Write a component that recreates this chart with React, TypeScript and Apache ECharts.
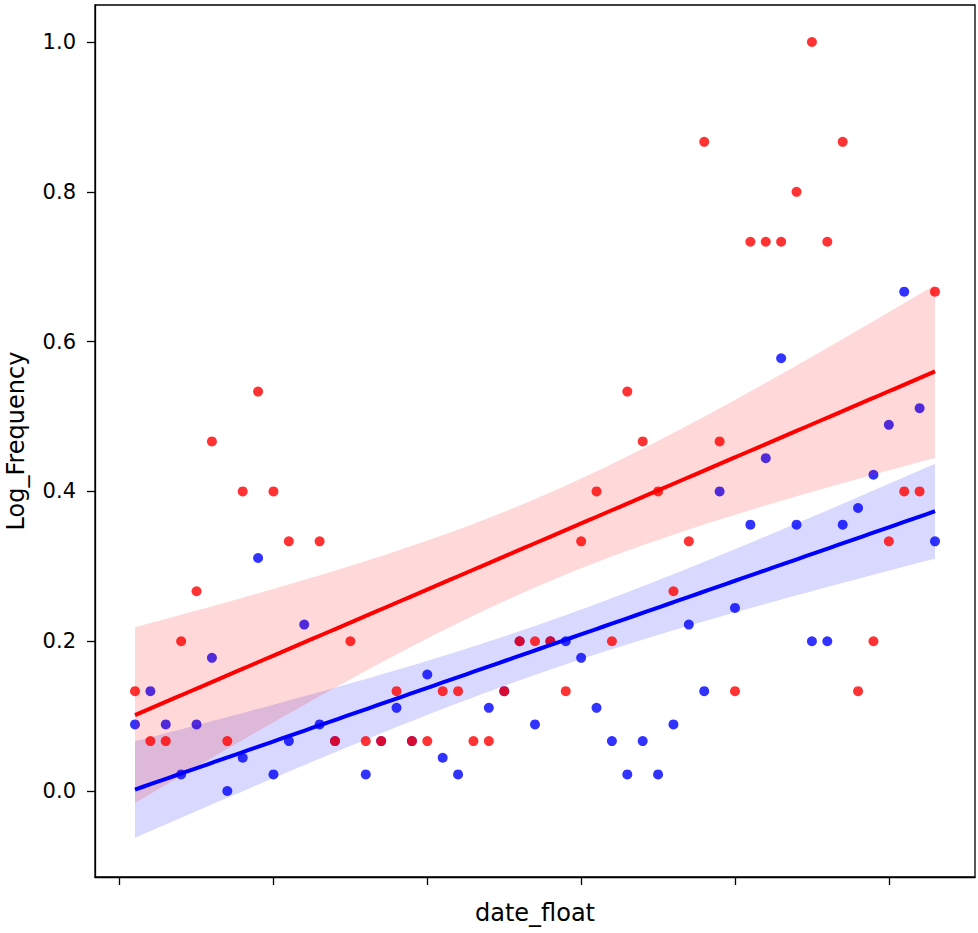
import React, { useEffect, useRef } from "react";
import * as echarts from "echarts";

const X_VALUES = [
  1, 2, 3, 4, 5, 6, 7, 8, 9, 10, 11, 12, 13, 14, 15, 16, 17, 18, 19, 20, 21, 22, 23, 24, 25, 26, 27,
  28, 29, 30, 31, 32, 33, 34, 35, 36, 37, 38, 39, 40, 41, 42, 43, 44, 45, 46, 47, 48, 49, 50, 51, 52, 53,
];

const RED_VALUES: (number | null)[] = [
  0.1333, 0.0667, 0.0667, 0.2, 0.2667, 0.4667, 0.0667, 0.4, 0.5333, 0.4, 0.3333, null, 0.3333, 0.0667,
  0.2, 0.0667, 0.0667, 0.1333, 0.0667, 0.0667, 0.1333, 0.1333, 0.0667, 0.0667, 0.1333, 0.2, 0.2, 0.2,
  0.1333, 0.3333, 0.4, 0.2, 0.5333, 0.4667, 0.4, 0.2667, 0.3333, 0.8667, 0.4667, 0.1333, 0.7333, 0.7333,
  0.7333, 0.8, 1.0, 0.7333, 0.8667, 0.1333, 0.2, 0.3333, 0.4, 0.4, 0.6667,
];

const BLUE_VALUES: (number | null)[] = [
  0.0889, 0.1333, 0.0889, 0.0222, 0.0889, 0.1778, 0.0, 0.0444, 0.3111, 0.0222, 0.0667, 0.2222, 0.0889,
  0.0667, null, 0.0222, 0.0667, 0.1111, 0.0667, 0.1556, 0.0444, 0.0222, null, 0.1111, 0.1333, 0.2, 0.0889,
  0.2, 0.2, 0.1778, 0.1111, 0.0667, 0.0222, 0.0667, 0.0222, 0.0889, 0.2222, 0.1333, 0.4, 0.2444, 0.3556,
  0.4444, 0.5778, 0.3556, 0.2, 0.2, 0.3556, 0.3778, 0.4222, 0.4889, 0.6667, 0.5111, 0.3333,
];

const X_TICKS = [0, 10, 20, 30, 40, 50];
const Y_TICKS = [0, 0.2, 0.4, 0.6, 0.8, 1.0];

const FONT = "DejaVu Sans";

type Fit = { pts: number[][]; line: number[][]; band: number[][] };

function regress(xs: number[], ys: (number | null)[]): Fit {
  const pts: number[][] = [];
  xs.forEach((x, i) => {
    const y = ys[i];
    if (y !== null && y !== undefined) pts.push([x, y]);
  });
  const n = pts.length;
  const xbar = pts.reduce((s, p) => s + p[0], 0) / n;
  const ybar = pts.reduce((s, p) => s + p[1], 0) / n;
  let sxx = 0;
  let sxy = 0;
  pts.forEach((p) => {
    sxx += (p[0] - xbar) * (p[0] - xbar);
    sxy += (p[0] - xbar) * (p[1] - ybar);
  });
  const b = sxy / sxx;
  const a = ybar - b * xbar;
  let sse = 0;
  pts.forEach((p) => {
    const r = p[1] - (a + b * p[0]);
    sse += r * r;
  });
  const s = Math.sqrt(sse / (n - 2));
  const t = 1.96;
  const xmin = Math.min(...pts.map((p) => p[0]));
  const xmax = Math.max(...pts.map((p) => p[0]));
  const line: number[][] = [];
  const band: number[][] = [];
  const N = 100;
  for (let k = 0; k < N; k++) {
    const g = xmin + ((xmax - xmin) * k) / (N - 1);
    const yh = a + b * g;
    const h = t * s * Math.sqrt(1 / n + ((g - xbar) * (g - xbar)) / sxx);
    line.push([g, yh]);
    band.push([g, yh - h, yh + h]);
  }
  return { pts, line, band };
}

function bandSeries(band: number[][], fill: string, z: number) {
  return {
    type: "custom",
    z,
    silent: true,
    data: band,
    encode: { x: 0, y: [1, 2] },
    renderItem: (params: any, api: any) => {
      if (params.dataIndex !== 0) return null;
      const upper = band.map((d) => api.coord([d[0], d[2]]));
      const lower = band
        .slice()
        .reverse()
        .map((d) => api.coord([d[0], d[1]]));
      return {
        type: "polygon",
        shape: { points: upper.concat(lower) },
        style: { fill, stroke: "none" },
      };
    },
  };
}

export default function App() {
  const ref = useRef<HTMLDivElement>(null);

  useEffect(() => {
    if (!ref.current) return;
    const chart = echarts.init(ref.current, null, { renderer: "svg" });
    const red = regress(X_VALUES, RED_VALUES);
    const blue = regress(X_VALUES, BLUE_VALUES);

    const option: any = {
      animation: false,
      backgroundColor: "#ffffff",
      grid: {
        left: 95,
        top: 5,
        right: 3,
        bottom: 56,
        containLabel: false,
        outerBoundsMode: "none",
        show: true,
        borderColor: "#000000",
        borderWidth: 1.3,
        backgroundColor: "#ffffff",
      },
      xAxis: {
        type: "value",
        min: -1.6,
        max: 55.6,
        name: "date_float",
        nameLocation: "middle",
        nameGap: 24,
        nameTextStyle: { fontFamily: FONT, fontSize: 24, color: "#000" },
        axisLine: { show: true, onZero: false, lineStyle: { color: "#000", width: 1.3 } },
        axisTick: {
          show: true,
          customValues: X_TICKS,
          length: 8,
          lineStyle: { color: "#000", width: 1.3 },
        },
        axisLabel: { show: false },
        splitLine: { show: false },
      },
      yAxis: {
        type: "value",
        min: -0.1148,
        max: 1.0494,
        name: "Log_Frequency",
        nameLocation: "middle",
        nameGap: 67,
        nameRotate: 90,
        nameTextStyle: { fontFamily: FONT, fontSize: 24, color: "#000" },
        axisLine: { show: true, onZero: false, lineStyle: { color: "#000", width: 1.3 } },
        axisTick: {
          show: true,
          customValues: Y_TICKS,
          length: 8,
          lineStyle: { color: "#000", width: 1.3 },
        },
        axisLabel: {
          show: true,
          customValues: Y_TICKS,
          formatter: (v: number) => v.toFixed(1),
          fontFamily: FONT,
          fontSize: 21,
          color: "#000",
          margin: 19,
        },
        splitLine: { show: false },
      },
      series: [
        {
          type: "scatter",
          z: 1,
          data: blue.pts,
          symbolSize: 10,
          itemStyle: { color: "#0000ff", opacity: 0.8 },
        },
        bandSeries(blue.band, "rgba(0,0,255,0.15)", 2),
        {
          type: "scatter",
          z: 3,
          data: red.pts,
          symbolSize: 10,
          itemStyle: { color: "#ff0000", opacity: 0.8 },
        },
        bandSeries(red.band, "rgba(255,0,0,0.15)", 4),
        {
          type: "line",
          z: 5,
          data: blue.line,
          showSymbol: false,
          symbol: "none",
          lineStyle: { color: "#0000ff", width: 4 },
        },
        {
          type: "line",
          z: 6,
          data: red.line,
          showSymbol: false,
          symbol: "none",
          lineStyle: { color: "#ff0000", width: 4 },
        },
      ],
    };
    chart.setOption(option);
    return () => chart.dispose();
  }, []);

  return (
    <div
      ref={ref}
      style={{ position: "fixed", left: 0, top: 0, width: 978, height: 933, background: "#fff" }}
    />
  );
}
